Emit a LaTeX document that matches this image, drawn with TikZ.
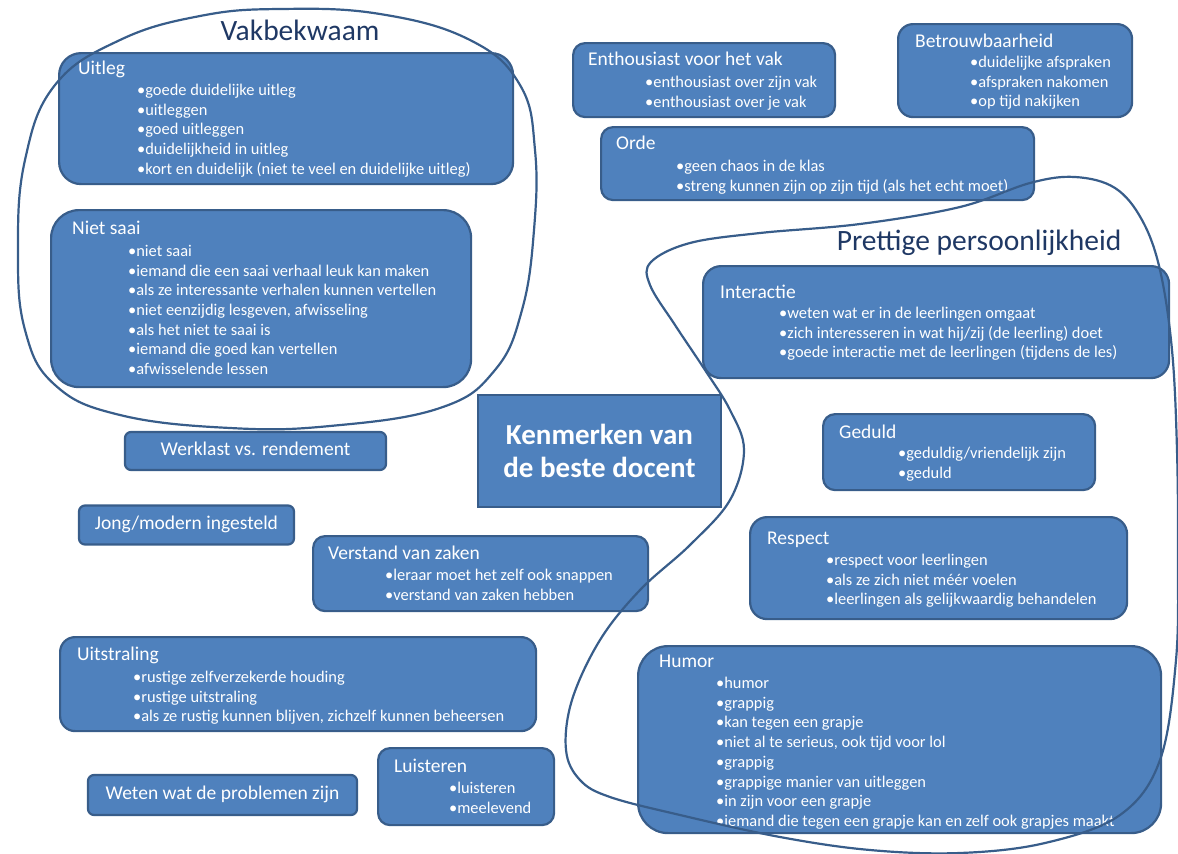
\documentclass[tikz,border=0pt]{standalone}
\usepackage{fontspec}
\setmainfont{Carlito}
\usepackage{tikz}
\usetikzlibrary{positioning}
\definecolor{blokblauw}{HTML}{4F81BD}
\definecolor{blokrand}{HTML}{385D8A}
\definecolor{kopblauw}{HTML}{1F3864}

\begin{document}
\begin{tikzpicture}[x=1pt, y=-1pt,
  blok/.style={draw=blokrand, line width=2.2pt, fill=blokblauw, anchor=north west, inner sep=0pt},
  kop/.style={anchor=west, text=white, inner sep=0pt, font=\fontsize{19.5}{23}\selectfont, text height=0.75em, text depth=0.25em},
  punten/.style={anchor=north west, text=white, inner sep=0pt, align=left, font=\fontsize{16.4}{19.7}\selectfont},
  los/.style={blok, anchor=center, text=white, font=\fontsize{19.5}{23}\selectfont, text height=0.8em, text depth=0em},
  lus/.style={draw=blokrand, line width=2.2pt},
  groepnaam/.style={text=kopblauw, inner sep=0pt, font=\fontsize{29.5}{34}\selectfont}]
  \useasboundingbox (0,0) rectangle (1178,854);

  % Vakbekwaam
  \node[groepnaam] (vakbekwaam) at (300,30) {Vakbekwaam};
  \node[blok, minimum width=454pt, minimum height=131pt, rounded corners=22pt] (uitleg) at (58,52) {};
  \node[kop] (uitlegkop) at ([shift={(20,20)}]uitleg.north west) {Uitleg};
  \node[punten] (uitlegpunten) at ([shift={(79,32)}]uitleg.north west)
    {•goede duidelijke uitleg\\•uitleggen\\•goed uitleggen\\•duidelijkheid in uitleg\\•kort en duidelijk (niet te veel en duidelijke uitleg)};
  \node[blok, minimum width=420pt, minimum height=177pt, rounded corners=28pt] (nietsaai) at (50,209) {};
  \node[kop] (nietsaaikop) at ([shift={(22,23)}]nietsaai.north west) {Niet saai};
  \node[punten] (nietsaaipunten) at ([shift={(78,36)}]nietsaai.north west)
    {•niet saai\\•iemand die een saai verhaal leuk kan maken\\•als ze interessante verhalen kunnen vertellen\\•niet eenzijdig lesgeven, afwisseling\\•als het niet te saai is\\•iemand die goed kan vertellen\\•afwisselende lessen};

  % bovenaan rechts
  \node[blok, minimum width=262pt, minimum height=74pt, rounded corners=12pt] (enthousiast) at (572,42) {};
  \node[kop] (enthousiastkop) at ([shift={(16,21)}]enthousiast.north west) {Enthousiast voor het vak};
  \node[punten] (enthousiastpunten) at ([shift={(73,34)}]enthousiast.north west)
    {•enthousiast over zijn vak\\•enthousiast over je vak};
  \node[blok, minimum width=234pt, minimum height=93pt, rounded corners=15pt] (betrouw) at (897,23) {};
  \node[kop] (betrouwkop) at ([shift={(18,22)}]betrouw.north west) {Betrouwbaarheid};
  \node[punten] (betrouwpunten) at ([shift={(73,33)}]betrouw.north west)
    {•duidelijke afspraken\\•afspraken nakomen\\•op tijd nakijken};
  \node[blok, minimum width=433pt, minimum height=73pt, rounded corners=12pt] (orde) at (600,126) {};
  \node[kop] (ordekop) at ([shift={(16,21)}]orde.north west) {Orde};
  \node[punten] (ordepunten) at ([shift={(76,34)}]orde.north west)
    {•geen chaos in de klas\\•streng kunnen zijn op zijn tijd (als het echt moet)};

  % Prettige persoonlijkheid
  \node[groepnaam] (prettig) at (979,243) {Prettige persoonlijkheid};
  \node[blok, minimum width=466pt, minimum height=112pt, rounded corners=18pt] (interactie) at (702,265) {};
  \node[kop] (interactiekop) at ([shift={(18,31)}]interactie.north west) {Interactie};
  \node[punten] (interactiepunten) at ([shift={(77,42)}]interactie.north west)
    {•weten wat er in de leerlingen omgaat\\•zich interesseren in wat hij/zij (de leerling) doet\\•goede interactie met de leerlingen (tijdens de les)};
  \node[blok, minimum width=272pt, minimum height=76pt, rounded corners=12pt] (geduld) at (822,413) {};
  \node[kop] (geduldkop) at ([shift={(17,23)}]geduld.north west) {Geduld};
  \node[punten] (geduldpunten) at ([shift={(76,34)}]geduld.north west)
    {•geduldig/vriendelijk zijn\\•geduld};
  \node[blok, minimum width=377pt, minimum height=102pt, rounded corners=17pt] (respect) at (749,516) {};
  \node[kop] (respectkop) at ([shift={(18,26)}]respect.north west) {Respect};
  \node[punten] (respectpunten) at ([shift={(77,38)}]respect.north west)
    {•respect voor leerlingen\\•als ze zich niet méér voelen\\•leerlingen als gelijkwaardig behandelen};
  \node[blok, minimum width=523pt, minimum height=187pt, rounded corners=30pt] (humor) at (637,645) {};
  \node[kop] (humorkop) at ([shift={(22,20)}]humor.north west) {Humor};
  \node[punten] (humorpunten) at ([shift={(79,32)}]humor.north west)
    {•humor\\•grappig\\•kan tegen een grapje\\•niet al te serieus, ook tijd voor lol\\•grappig\\•grappige manier van uitleggen\\•in zijn voor een grapje\\•iemand die tegen een grapje kan en zelf ook grapjes maakt};

  % midden
  \node[blok, anchor=center, minimum width=243pt, minimum height=112pt, text=white, align=center,
    font=\bfseries\fontsize{29}{33}\selectfont] (kenmerken) at (599.5,451) {Kenmerken van\\de beste docent};

  % losse kenmerken links
  \node[los, minimum width=261pt, minimum height=38pt, rounded corners=6pt] (werklast) at (255.5,451) {Werklast vs. rendement};
  \node[los, minimum width=215pt, minimum height=39pt, rounded corners=6pt] (jong) at (186.5,525) {Jong/modern ingesteld};
  \node[blok, minimum width=335pt, minimum height=75pt, rounded corners=12pt] (verstand) at (312,535) {};
  \node[kop] (verstandkop) at ([shift={(16,22)}]verstand.north west) {Verstand van zaken};
  \node[punten] (verstandpunten) at ([shift={(73,34)}]verstand.north west)
    {•leraar moet het zelf ook snappen\\•verstand van zaken hebben};
  \node[blok, minimum width=476pt, minimum height=94pt, rounded corners=15pt] (uitstraling) at (59,636) {};
  \node[kop] (uitstralingkop) at ([shift={(18,22)}]uitstraling.north west) {Uitstraling};
  \node[punten] (uitstralingpunten) at ([shift={(74,35)}]uitstraling.north west)
    {•rustige zelfverzekerde houding\\•rustige uitstraling\\•als ze rustig kunnen blijven, zichzelf kunnen beheersen};
  \node[blok, minimum width=176pt, minimum height=77pt, rounded corners=12pt] (luisteren) at (377,747) {};
  \node[kop] (luisterenkop) at ([shift={(17,23)}]luisteren.north west) {Luisteren};
  \node[punten] (luisterenpunten) at ([shift={(72,35)}]luisteren.north west)
    {•luisteren\\•meelevend};
  \node[los, minimum width=269pt, minimum height=40pt, rounded corners=6pt] (weten) at (222.5,795) {Weten wat de problemen zijn};

  % lussen om de groepen
  \draw[lus] plot[smooth cycle, tension=0.7] coordinates {
    (280,9) (380,14) (470,40) (520,85) (535,150) (534,230) (522,310) (495,370)
    (440,408) (330,426) (230,428) (120,415) (55,385) (25,330) (18,250) (25,160)
    (55,85) (120,40) (200,16)};
  \draw[lus] plot[smooth cycle, tension=0.6] coordinates {
    (651,262) (690,243) (760,233) (860,224) (960,207) (1030,183) (1075,177)
    (1115,188) (1142,220) (1160,270) (1172,350) (1177,450) (1178,560) (1176,660)
    (1160,760) (1120,815) (1045,843) (960,853) (870,850) (780,837) (680,815)
    (610,797) (580,780) (566,750) (572,700) (600,640) (640,590) (690,545)
    (730,500) (744,450) (730,410) (705,370) (675,325) (650,285)};
\end{tikzpicture}
\end{document}
